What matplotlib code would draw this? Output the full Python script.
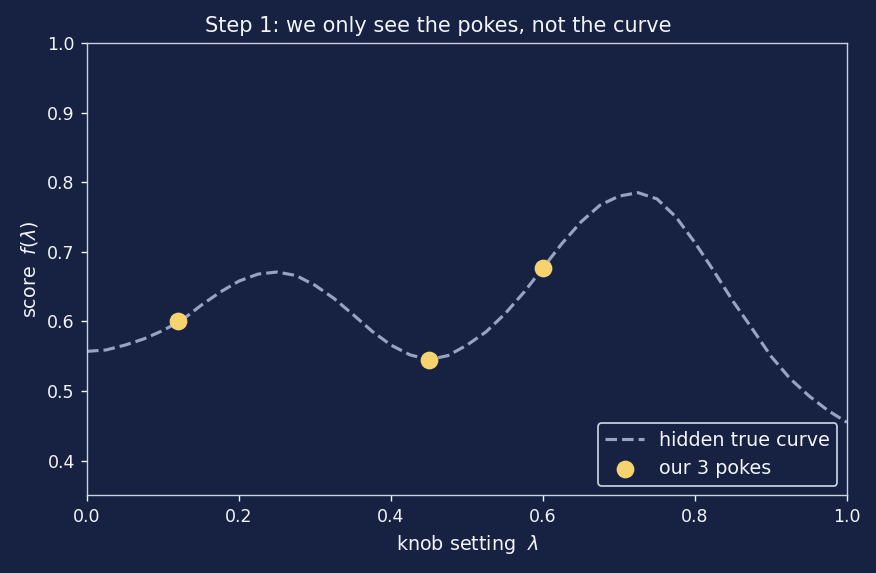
import numpy as np
import matplotlib
matplotlib.use("Agg")
import matplotlib.pyplot as plt

# hidden true curve at 0.025 steps
lam = [0.000, 0.025, 0.050, 0.075, 0.100, 0.125, 0.150, 0.175, 0.200, 0.225,
       0.250, 0.275, 0.300, 0.325, 0.350, 0.375, 0.400, 0.425, 0.450, 0.475,
       0.500, 0.525, 0.550, 0.575, 0.600, 0.625, 0.650, 0.675, 0.700, 0.725,
       0.750, 0.775, 0.800, 0.825, 0.850, 0.875, 0.900, 0.925, 0.950, 0.975,
       1.000]
score = [0.557, 0.559, 0.566, 0.575, 0.587, 0.602, 0.623, 0.642, 0.658, 0.668,
         0.671, 0.666, 0.652, 0.633, 0.610, 0.586, 0.566, 0.552, 0.545, 0.551,
         0.566, 0.585, 0.611, 0.642, 0.677, 0.712, 0.743, 0.767, 0.780, 0.785,
         0.776, 0.750, 0.713, 0.672, 0.629, 0.590, 0.550, 0.518, 0.493, 0.472,
         0.455]

# the three observed pokes
poke_x = [0.12, 0.45, 0.60]
poke_y = [0.600, 0.545, 0.677]

BG = "#172141"
FG = "#f2f4f8"
CURVE = "#97a3c4"
DOT = "#f6d36f"

fig = plt.figure(figsize=(876 / 125, 573 / 125), dpi=125, facecolor=BG)
ax = fig.add_axes([0.0993, 0.1353, 0.8676, 0.7897])
ax.set_facecolor(BG)

ax.plot(lam, score, linestyle="--", color=CURVE, lw=1.8, label="hidden true curve")
ax.scatter(poke_x, poke_y, s=85, color=DOT, zorder=3, label="our 3 pokes")

ax.set_xlim(0, 1)
ax.set_ylim(0.35, 1.0)
ax.set_xticks(np.arange(0, 1.01, 0.2))
ax.set_yticks(np.arange(0.4, 1.01, 0.1))

for s in ax.spines.values():
    s.set_color("#c9d1e3")
ax.tick_params(colors=FG, labelsize=10)

ax.set_xlabel(r"knob setting  $\lambda$", color=FG, fontsize=11)
ax.set_ylabel(r"score  $f(\lambda)$", color=FG, fontsize=11)
fig.suptitle("Step 1: we only see the pokes, not the curve", color=FG,
             fontsize=12, x=0.5, y=0.972, va="top")

leg = ax.legend(loc="lower right", facecolor=BG, edgecolor="#c9d1e3",
                labelcolor=FG, fontsize=11, framealpha=1)

fig.savefig("out.png", dpi=125, facecolor=BG)
